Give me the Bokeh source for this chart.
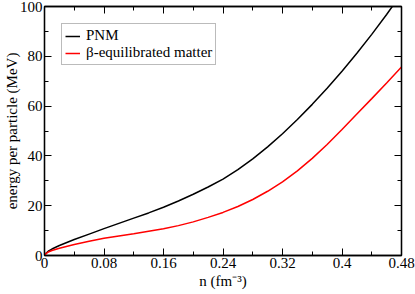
from bokeh.plotting import figure
from bokeh.models import (FixedTicker, LinearAxis, Range1d, CustomJSTickFormatter,
                          Legend, LegendItem)
from bokeh.embed import file_html
from bokeh.resources import INLINE

# Data
n = [0.0, 0.002, 0.005, 0.01, 0.02, 0.04, 0.06, 0.08, 0.10, 0.12, 0.14, 0.16, 0.18,
     0.20, 0.22, 0.24, 0.26, 0.28, 0.30, 0.32, 0.34, 0.36, 0.38, 0.40, 0.42,
     0.44, 0.46, 0.48]
pnm = [0.0, 0.9, 1.7, 2.6, 4.0, 6.4, 8.6, 10.8, 12.9, 15.0, 17.1, 19.4, 21.9,
       24.6, 27.5, 30.7, 34.5, 38.8, 43.6, 48.9, 54.6, 60.7, 67.2, 74.0, 81.2,
       88.8, 96.8, 105.2]
beta = [0.0, 0.8, 1.4, 2.0, 2.9, 4.4, 5.7, 6.9, 7.8, 8.7, 9.7, 10.7, 12.0,
        13.5, 15.3, 17.3, 19.7, 22.5, 25.8, 29.6, 34.0, 39.0, 44.6, 50.6, 56.8,
        63.0, 69.3, 75.7]
series_names = ["PNM", "\u03b2-equilibrated matter"]
x_ticks = [0, 0.08, 0.16, 0.24, 0.32, 0.40, 0.48]
x_minor = [0, 0.04, 0.08, 0.12, 0.16, 0.20, 0.24, 0.28, 0.32, 0.36, 0.40, 0.44, 0.48]
y_ticks = [0, 20, 40, 60, 80, 100]
y_minor = [0, 10, 20, 30, 40, 50, 60, 70, 80, 90, 100]

FONT = "'Liberation Serif'"
FS = "15px"

p = figure(frame_width=357, frame_height=249, output_backend="svg", toolbar_location=None,
           x_range=Range1d(0, 0.48), y_range=Range1d(0, 100),
           min_border_left=0, min_border_right=14, min_border_top=6,
           min_border_bottom=0)
p.xaxis.visible = False
p.yaxis.visible = False
p.grid.visible = False
p.outline_line_color = "black"
p.outline_line_width = 1.3
p.background_fill_color = "white"

fmt = CustomJSTickFormatter(code="return String(Number(tick.toFixed(2)));")
blank = CustomJSTickFormatter(code="return '';")

def style_axis(ax, labels=True):
    ax.axis_line_color = "black"
    ax.axis_line_width = 1.3
    ax.major_tick_in = 7
    ax.major_tick_out = 0
    ax.minor_tick_in = 4
    ax.minor_tick_out = 0
    ax.major_tick_line_color = "black"
    ax.minor_tick_line_color = "black"
    ax.major_label_text_font = FONT
    ax.major_label_text_font_size = FS if labels else "0px"
    ax.major_label_text_color = "black"
    ax.major_label_standoff = 2
    ax.axis_label_text_font = FONT
    ax.axis_label_text_font_size = FS
    ax.axis_label_text_font_style = "normal"
    ax.axis_label_text_color = "black"
    ax.axis_label_standoff = 2

xt = FixedTicker(ticks=x_ticks, minor_ticks=x_minor)
yt = FixedTicker(ticks=y_ticks, minor_ticks=y_minor)

xb = LinearAxis(ticker=xt, formatter=fmt, axis_label="n (fm\u207b\u00b3)")
style_axis(xb)
p.add_layout(xb, "below")
xa = LinearAxis(ticker=FixedTicker(ticks=x_ticks, minor_ticks=x_minor), formatter=blank)
style_axis(xa, labels=False)
xa.major_label_standoff = 0
p.add_layout(xa, "above")

yl = LinearAxis(ticker=yt, formatter=fmt, axis_label="energy per particle (MeV)")
style_axis(yl)
yl.axis_label_standoff = -3
p.add_layout(yl, "left")
yr = LinearAxis(ticker=FixedTicker(ticks=y_ticks, minor_ticks=y_minor), formatter=blank)
style_axis(yr, labels=False)
yr.major_label_standoff = 0
p.add_layout(yr, "right")

r1 = p.line(n, pnm, line_color="black", line_width=1.5)
r2 = p.line(n, beta, line_color="#ff0000", line_width=1.5)

legend = Legend(items=[LegendItem(label=series_names[0], renderers=[r1]),
                       LegendItem(label=series_names[1], renderers=[r2])],
                location="top_left")
legend.margin = 17
legend.padding = 3
legend.spacing = 0
legend.glyph_width = 15
legend.glyph_height = 16
legend.label_height = 16
legend.label_standoff = 6
legend.label_text_font = FONT
legend.label_text_font_size = FS
legend.label_text_color = "black"
legend.border_line_color = "#777777"
legend.border_line_width = 1
legend.background_fill_color = "white"
legend.background_fill_alpha = 1.0
p.add_layout(legend, "center")

open("out.html", "w").write(file_html(p, INLINE))
